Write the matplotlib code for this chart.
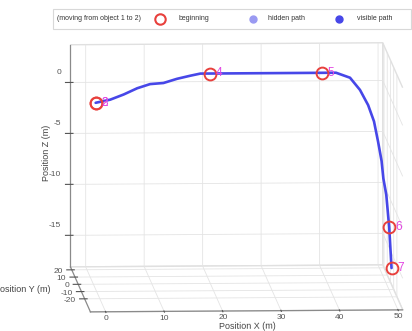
import numpy as np
import matplotlib
matplotlib.use("Agg")
import matplotlib.pyplot as plt
from matplotlib.lines import Line2D
from matplotlib.patches import Rectangle

# --- path (metres) ---
path_x = [0.0, 2.5, 4.8, 7.1, 9.3, 11.6, 13.9, 16.2, 17.9, 19.5, 28.1, 35.5,
          38.7, 41.1, 43.5, 45.2, 46.6, 47.6, 48.3, 48.9, 49.2, 49.7, 50.2, 50.6]
path_y = [-7.0, -7.0, -7.0, -7.0, -7.0, -7.0, -7.0, -7.0, -7.0, -7.0, -7.0, -7.0,
          -7.0, -7.0, -7.0, -7.0, -7.0, -7.0, -7.0, -7.0, -7.0, -7.0, -7.0, -7.0]
path_z = [0.2, 0.5, 1.0, 1.6, 2.0, 2.1, 2.5, 2.8, 3.0, 3.0, 3.0, 3.0,
          3.0, 3.0, 2.5, 1.3, -0.2, -1.8, -3.8, -5.7, -7.4, -9.0, -12.2, -16.2]

# --- numbered waypoints ---
wp_labels = ["2", "3", "4", "5", "6", "7"]
wp_x = [0.0, 0.0, 19.5, 38.7, 50.2, 50.6]
wp_y = [-7.0, -7.0, -7.0, -7.0, -7.0, -7.0]
wp_z = [0.2, 0.2, 3.0, 3.0, -12.2, -16.2]

x_ticks = [0, 10, 20, 30, 40, 50]
y_ticks = [-20, -10, 0, 10, 20]
z_ticks = [-15, -10, -5, 0]

legend_labels = ["(moving from object 1 to 2)", "beginning", "hidden path", "visible path"]

# --- colours ---
line_col = "#4747e8"
hidden_col = "#9a9af2"
ring_col = "#e8403c"
num_col = "#e246e2"
tick_col = '#555555'

plt.rcParams['font.family'] = ['Liberation Sans', 'DejaVu Sans']
plt.rcParams['axes.unicode_minus'] = False
plt.rcParams['grid.color'] = '#e4e4e4'
plt.rcParams['grid.linewidth'] = 0.6

fig = plt.figure(figsize=(4.12, 3.31), dpi=100, facecolor='white')
# 3D axes are forced square, so make the square cover the whole picture
ax = fig.add_axes([0.0607, -0.175, 1.0, 1.245], projection='3d', proj_type='ortho')
ax.view_init(elev=6.9, azim=-93.05)
ax.set_box_aspect((313, 375, 224), zoom=1.265)

ax.plot(path_x, path_y, path_z, color=line_col, lw=1.9, solid_capstyle='round')
ax.plot(wp_x, wp_y, wp_z, ls='none', marker='o', ms=8.5, mfc='none',
        mec=ring_col, mew=1.4)
for lab, x, y, z in zip(wp_labels, wp_x, wp_y, wp_z):
    ax.text(x + 1.0, y, z, lab, color=num_col, fontsize=8.5, ha='left', va='center')

xlo, xhi = -2.6, 50.8
ylo, yhi = -38, 24
zlo, zhi = -18.1, 3.7
ax.set_xlim(xlo, xhi)
ax.set_ylim(ylo, yhi)
ax.set_zlim(zlo, zhi)
ax.set_xticks(x_ticks)
ax.set_yticks(y_ticks)
ax.set_zticks(z_ticks)

for axis in (ax.xaxis, ax.yaxis, ax.zaxis):
    axis.set_pane_color((1, 1, 1, 1))
    axis.pane.set_edgecolor('#e0e0e0')
    axis.line.set_color('#8a8a8a')
    axis.line.set_linewidth(0.9)
ax.tick_params(axis='both', colors=tick_col, labelsize=6, pad=0)
ax.xaxis.set_tick_params(pad=-6)

# z and y tick labels placed like the reference (offset from the ticks)
ax.zaxis.set_ticklabels([])
for zt in z_ticks:
    ax.text(xlo - 1.6, yhi, zt + 1.0, str(zt), color=tick_col, fontsize=6,
            ha='right', va='center')
ax.yaxis.set_ticklabels([])
for yt in y_ticks:
    ax.text(xlo - 1.5, yt, zlo - 0.15, str(yt), color=tick_col, fontsize=6,
            ha='right', va='center')

ax.set_xlabel('Position X (m)', fontsize=6.5, color='#444444', labelpad=-12)
ax.set_zlabel('Position Z (m)', fontsize=6.5, color='#444444', labelpad=-10)
ax.set_ylabel('')
fig.text(50 / 412, 1 - 290 / 331, 'Position Y (m)', fontsize=6.5, color='#444444',
         ha='right', va='center')

# --- legend strip at the top ---
fig.patches.append(Rectangle((53 / 412, 1 - 29 / 331), 358 / 412, 20 / 331,
                             transform=fig.transFigure, facecolor='white',
                             edgecolor='#d8d8d8', lw=0.8))
ly = 1 - 19 / 331
fs_leg = 5.0
fig.text(57 / 412, ly, legend_labels[0], fontsize=fs_leg, color='#333333', va='center')
fig.add_artist(Line2D([160 / 412], [ly], transform=fig.transFigure, marker='o', ms=7.5,
                      mfc='none', mec=ring_col, mew=1.5, ls='none'))
fig.text(179 / 412, ly, legend_labels[1], fontsize=fs_leg, color='#333333', va='center')
fig.add_artist(Line2D([253 / 412], [ly], transform=fig.transFigure, marker='o', ms=5,
                      mfc=hidden_col, mec=hidden_col, ls='none'))
fig.text(268 / 412, ly, legend_labels[2], fontsize=fs_leg, color='#333333', va='center')
fig.add_artist(Line2D([339 / 412], [ly], transform=fig.transFigure, marker='o', ms=5,
                      mfc=line_col, mec=line_col, ls='none'))
fig.text(357 / 412, ly, legend_labels[3], fontsize=fs_leg, color='#333333', va='center')

fig.savefig('out.png', dpi=100, facecolor='white')
